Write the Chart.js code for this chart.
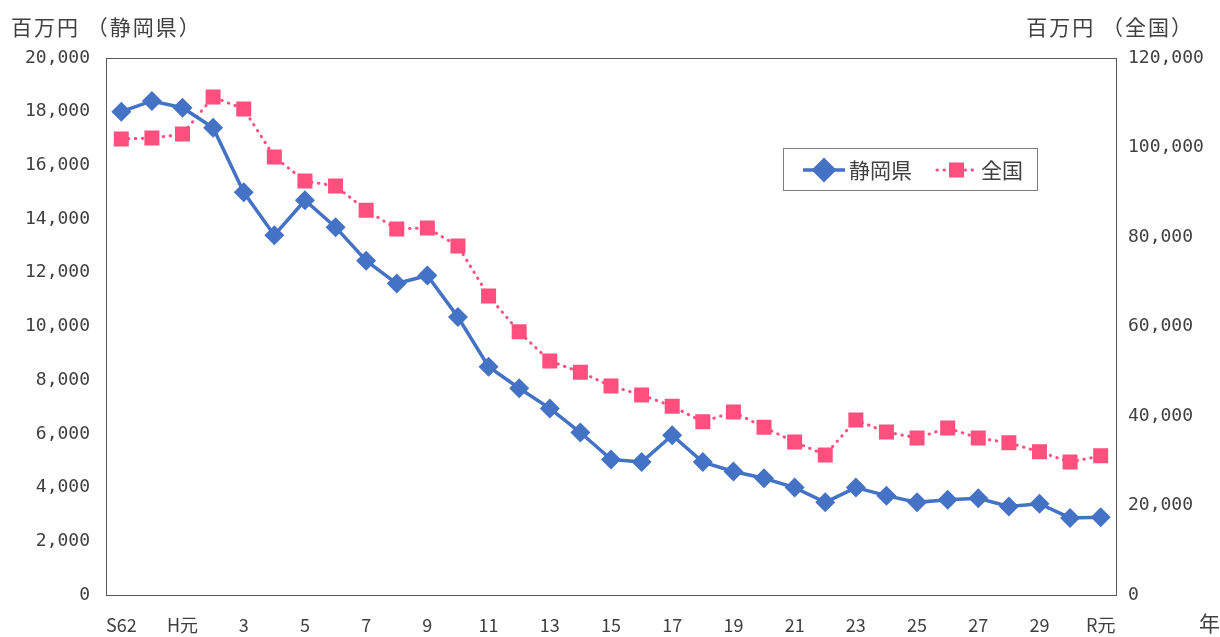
<!DOCTYPE html>
<html><head><meta charset="utf-8">
<script src="https://cdn.jsdelivr.net/npm/chart.js@4/dist/chart.umd.min.js"></script>
<style>html,body{margin:0;padding:0;background:#fff;}#wrap{width:1220px;height:637px;position:relative;}</style>
</head><body><div id="wrap"><canvas id="c" width="1220" height="637"></canvas></div>
<script>
const categories = ['S62','S63','H元','2','3','4','5','6','7','8','9','10','11','12','13','14','15','16','17','18','19','20','21','22','23','24','25','26','27','28','29','30','R元'];
const shizuoka = [18000,18400,18150,17400,15000,13400,14700,13700,12450,11600,11900,10350,8500,7700,6950,6050,5050,4950,5950,4950,4600,4350,4000,3450,4000,3700,3450,3550,3600,3300,3400,2870,2900];
const zenkoku = [101900,102100,103000,111300,108600,97900,92500,91400,86000,81800,82000,78000,66800,58800,52300,49800,46700,44700,42200,38700,40900,37500,34200,31300,39100,36400,35100,37300,35100,34000,32000,29700,31100];
const seriesNames = ['静岡県','全国'];
const leftTitle = '百万円 （静岡県）';
const rightTitle = '百万円 （全国）';
const xTitle = '年';

const BLUE = '#4472C4', PINK = '#FF4F7F', TXT = '#404040';
const CJK = '"Noto Sans CJK JP", "Noto Sans", sans-serif';
const NUM = '"DejaVu Sans Mono", monospace';

const decor = {
  id: 'decor',
  afterDraw(chart) {
    const {ctx, chartArea: a} = chart;
    ctx.save();
    ctx.strokeStyle = '#595959';
    ctx.lineWidth = 1;
    ctx.strokeRect(Math.round(a.left)+0.5, Math.round(a.top)+0.5, Math.round(a.right-a.left), Math.round(a.bottom-a.top));
    ctx.fillStyle = TXT;
    ctx.font = '21px ' + CJK;
    ctx.textBaseline = 'middle';
    ctx.letterSpacing = '2px';
    ctx.textAlign = 'left';
    ctx.fillText(leftTitle, 11, 27);
    ctx.textAlign = 'right';
    ctx.fillText(rightTitle, 1194, 27);
    ctx.textAlign = 'left';
    ctx.letterSpacing = '0px';
    ctx.fillText(xTitle, 1199, 623);
    // legend
    const lx = 783, ly = 148, lw = 254, lh = 42;
    ctx.fillStyle = '#fff';
    ctx.fillRect(lx, ly, lw, lh);
    ctx.strokeStyle = '#7f7f7f';
    ctx.strokeRect(lx+0.5, ly+0.5, lw, lh);
    const cy = ly + lh/2 + 1;
    const ds = chart.data.datasets;
    ctx.strokeStyle = ds[0].borderColor; ctx.lineWidth = 3.5; ctx.setLineDash([]);
    ctx.beginPath(); ctx.moveTo(803, cy); ctx.lineTo(845, cy); ctx.stroke();
    Chart.helpers.drawPoint(ctx, {pointStyle: ds[0].pointStyle, radius: 10, borderWidth: 1}, 824, cy);
    ctx.fillStyle = ds[0].pointBackgroundColor;
    ctx.fill();
    ctx.strokeStyle = ds[1].borderColor; ctx.lineWidth = 3; ctx.lineCap = 'round'; ctx.setLineDash([0.5, 6.5]);
    ctx.beginPath(); ctx.moveTo(937, cy); ctx.lineTo(976, cy); ctx.stroke();
    ctx.setLineDash([]);
    ctx.fillStyle = ds[1].pointBackgroundColor;
    ctx.fillRect(949, cy-7.5, 15, 15);
    ctx.fillStyle = TXT;
    ctx.font = '21px ' + CJK;
    ctx.textAlign = 'left';
    ctx.fillText(seriesNames[0], 849, cy);
    ctx.fillText(seriesNames[1], 981, cy);
    ctx.restore();
  }
};

new Chart(document.getElementById('c'), {
  type: 'line',
  data: {
    labels: categories,
    datasets: [
      {label: seriesNames[0], data: shizuoka, yAxisID: 'y', borderColor: BLUE, backgroundColor: BLUE,
       pointBackgroundColor: BLUE, pointBorderColor: BLUE, borderWidth: 3.5, pointStyle: 'rectRot', pointRadius: 10, pointBorderWidth: 0, tension: 0, order: 1},
      {label: seriesNames[1], data: zenkoku, yAxisID: 'y2', borderColor: PINK, backgroundColor: PINK,
       pointBackgroundColor: PINK, pointBorderColor: PINK, borderWidth: 3, borderDash: [0.5, 6.5], borderCapStyle: 'round',
       pointStyle: 'rect', pointRadius: 10.6, pointBorderWidth: 0, tension: 0, order: 2}
    ]
  },
  options: {
    responsive: false, animation: false, devicePixelRatio: 1,
    layout: {padding: {left: 0, right: 0, top: 58, bottom: 0}},
    plugins: {legend: {display: false}, tooltip: {enabled: false}},
    scales: {
      x: {
        offset: true,
        grid: {display: false, drawTicks: false}, border: {display: false},
        ticks: {autoSkip: false, maxRotation: 0, minRotation: 0, color: TXT, font: {family: CJK, size: 18}, padding: 19,
          callback: function(v, i) { return i % 2 === 0 ? categories[i] : ''; }},
        afterFit(s) { s.height = 42; }
      },
      y: {
        position: 'left', min: 0, max: 20000,
        grid: {display: false, drawTicks: false}, border: {display: false},
        ticks: {stepSize: 2000, color: TXT, font: {family: NUM, size: 18}, padding: 16,
          callback: v => v.toLocaleString('en-US')},
        afterFit(s) { s.width = 106; }
      },
      y2: {
        position: 'right', min: 0, max: 120000,
        grid: {display: false, drawTicks: false}, border: {display: false},
        ticks: {stepSize: 20000, color: TXT, font: {family: NUM, size: 18}, padding: 12,
          callback: v => v.toLocaleString('en-US')},
        afterFit(s) { s.width = 104; }
      }
    }
  },
  plugins: [decor]
});
</script></body></html>
